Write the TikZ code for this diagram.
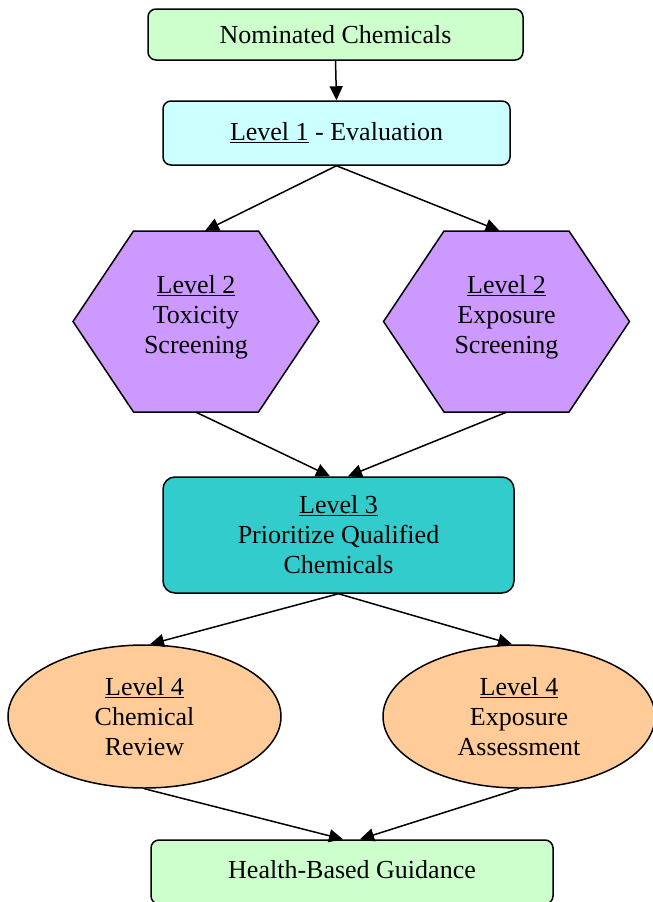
\documentclass[tikz,border=0pt]{standalone}
\usepackage{fontspec}
\setmainfont{Liberation Serif}
\usetikzlibrary{shapes.geometric,arrows.meta}

\definecolor{boxgreen}{HTML}{CCFFCC}
\definecolor{boxcyan}{HTML}{CCFFFF}
\definecolor{hexviolet}{HTML}{CC99FF}
\definecolor{boxteal}{HTML}{33CCCC}
\definecolor{ellorange}{HTML}{FFCC99}

\begin{document}
\begin{tikzpicture}[x=1pt, y=-1pt,
    every node/.style={font=\fontsize{26}{30}\selectfont, align=center, inner sep=0pt},
    stepbox/.style={draw, line width=1.5pt, rounded corners=8pt},
    hexa/.style={draw, line width=1.5pt, fill=hexviolet, line join=miter},
    hexnode/.style={minimum width=246pt, minimum height=181pt, text depth=14pt},
    oval/.style={ellipse, draw, line width=1.5pt, fill=ellorange},
    arr/.style={line width=1.5pt, -{Triangle[length=14pt, width=13pt]}}]

    \useasboundingbox (0,0) rectangle (653,902);

    % hexagons first, text nodes go on top
    \foreach \cx in {196,506.5}
        \filldraw[hexa, shift={(\cx,321.5)}] (-123,0) -- (-62.5,-90.5) -- (62.5,-90.5)
            -- (123,0) -- (62.5,90.5) -- (-62.5,90.5) -- cycle;

    \node[stepbox, fill=boxgreen, minimum width=375pt, minimum height=51pt] (nom) at (335.5,34.5) {Nominated Chemicals};
    \node[stepbox, fill=boxcyan, minimum width=347pt, minimum height=64pt] (lev1) at (336.5,133) {\raisebox{3pt}{\underline{Level 1} - Evaluation}};

    \node[hexnode] (tox) at (196,321.5) {\underline{Level 2}\\Toxicity\\Screening};
    \node[hexnode] (expo) at (506.5,321.5) {\underline{Level 2}\\Exposure\\Screening};

    \node[stepbox, rounded corners=12pt, fill=boxteal, minimum width=351pt, minimum height=116pt] (lev3) at (338.5,535) {\underline{Level 3}\\Prioritize Qualified\\Chemicals};

    \node[oval, minimum width=273pt, minimum height=143pt] (chem) at (144.5,716.5) {\underline{Level 4}\\Chemical\\Review};
    \node[oval, minimum width=272pt, minimum height=143pt] (assess) at (519,716.5) {\underline{Level 4}\\Exposure\\Assessment};

    \node[stepbox, fill=boxgreen, minimum width=402pt, minimum height=64pt] (health) at (352,872) {\raisebox{5pt}{Health-Based Guidance}};

    % connectors
    \draw[arr] (nom.south) -- (lev1.north);
    \draw[arr] (lev1.south) -- ([xshift=9pt]tox.north);
    \draw[arr] (lev1.south) -- ([xshift=-7pt]expo.north);
    \draw[arr] (tox.south) -- ([xshift=-8.5pt]lev3.north);
    \draw[arr] (expo.south) -- ([xshift=9.5pt]lev3.north);
    \draw[arr] (lev3.south) -- ([xshift=5.5pt]chem.north);
    \draw[arr] (lev3.south) -- ([xshift=-7pt]assess.north);
    \draw[arr] (chem.south) -- ([xshift=-9pt]health.north);
    \draw[arr] (assess.south) -- ([xshift=8pt]health.north);

\end{tikzpicture}
\end{document}
